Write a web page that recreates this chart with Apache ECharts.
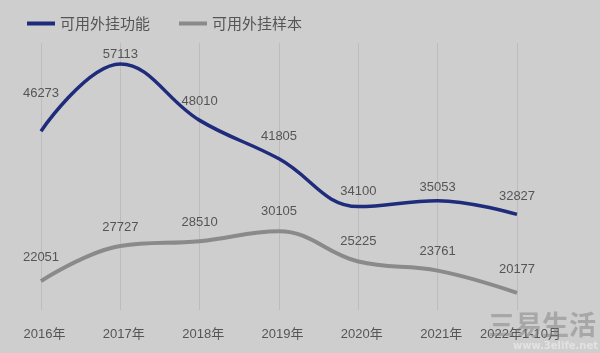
<!DOCTYPE html>
<html>
<head>
<meta charset="utf-8">
<script src="https://cdn.jsdelivr.net/npm/echarts@6/dist/echarts.min.js"></script>
<style>
html,body{margin:0;padding:0;background:#cecece;}
#chart{width:600px;height:353px;}
</style>
</head>
<body>
<div id="chart"></div>
<script>
const categories = ['2016年','2017年','2018年','2019年','2020年','2021年','2022年1-10月'];
const pluginFeature = [46273, 57113, 48010, 41805, 34100, 35053, 32827];
const pluginSample = [22051, 27727, 28510, 30105, 25225, 23761, 20177];
const seriesNames = ['可用外挂功能', '可用外挂样本'];
// label distance above each point (layout only)
const featureLabelDist = [31, 3, 12, 16, 9, 7, 12];
const sampleLabelDist = [17, 12, 12, 13, 14, 13, 17];

const font = '"Liberation Sans", Arial, "Noto Sans CJK SC", sans-serif';
function withDist(vals, dists) {
  return vals.map((v, i) => ({ value: v, label: { distance: dists[i] } }));
}
const chart = echarts.init(document.getElementById('chart'));
chart.setOption({
  backgroundColor: '#cecece',
  animation: false,
  legend: {
    left: 22, top: 11,
    icon: 'rect', itemWidth: 28, itemHeight: 4, itemGap: 29,
    textStyle: { color: '#555', fontSize: 15, fontFamily: '"Noto Sans CJK SC", sans-serif' },
    data: seriesNames
  },
  grid: { left: 41, right: 83, top: 43, bottom: 43 },
  xAxis: {
    type: 'category', boundaryGap: false, data: categories,
    axisLine: { show: false }, axisTick: { show: false },
    axisLabel: { color: '#555', fontSize: 13, margin: 18, fontFamily: font, interval: 0, padding: [0, 0, 0, 7] },
    splitLine: { show: true, lineStyle: { color: '#bcbcbc', width: 1 } }
  },
  yAxis: { type: 'value', min: 17400, max: 60500, show: false, splitLine: { show: false } },
  series: [
    {
      name: seriesNames[0], type: 'line', smooth: 0.4, symbol: 'circle', symbolSize: 0,
      lineStyle: { color: '#1f2b7b', width: 3.5 }, itemStyle: { color: '#1f2b7b' },
      label: { show: true, position: 'top', color: '#555', fontSize: 13, fontFamily: font },
      data: withDist(pluginFeature, featureLabelDist)
    },
    {
      name: seriesNames[1], type: 'line', smooth: 0.4, symbol: 'circle', symbolSize: 0,
      lineStyle: { color: '#8a8a8a', width: 4 }, itemStyle: { color: '#8a8a8a' },
      label: { show: true, position: 'top', color: '#555', fontSize: 13, fontFamily: font },
      data: withDist(pluginSample, sampleLabelDist)
    }
  ],
  graphic: [
    { type: 'text', right: 4, top: 311, z: 100,
      style: { text: '三易生活', fill: 'rgba(120,120,120,0.45)', font: 'bold 27px "Noto Sans CJK SC"' } },
    { type: 'text', right: 2, top: 341, z: 100,
      style: { text: 'www.3elife.net', fill: 'rgba(235,235,235,0.7)', font: 'bold 10px "DejaVu Sans"' } }
  ]
});
</script>
</body>
</html>
